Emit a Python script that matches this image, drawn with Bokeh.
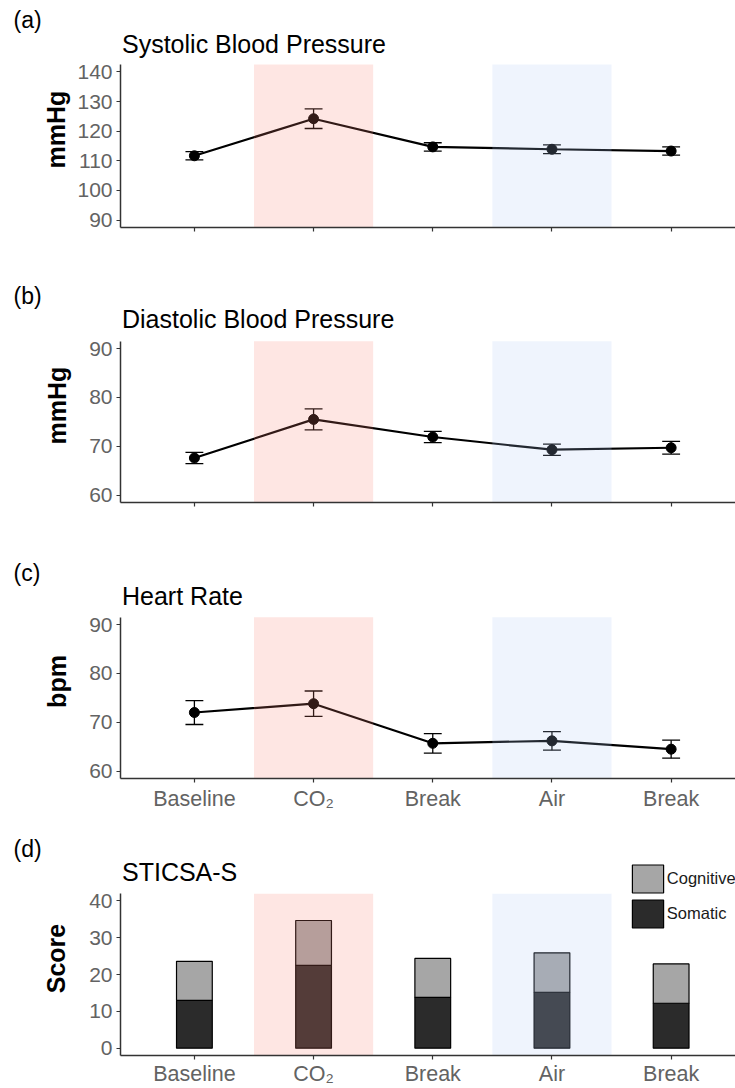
import math
from bokeh.plotting import figure
from bokeh.layouts import column
from bokeh.models import FixedTicker, Label, Legend, LegendItem, Range1d, ColumnDataSource, Title
from bokeh.embed import file_html
from bokeh.resources import INLINE

# ---------------- data ----------------
conditions = ["Baseline", "CO\u2082", "Break", "Air", "Break"]

sbp_mean = [111.7, 124.2, 114.7, 113.9, 113.3]
sbp_se = [1.4, 3.3, 1.4, 1.45, 1.4]
dbp_mean = [67.6, 75.5, 71.9, 69.3, 69.7]
dbp_se = [1.15, 2.15, 1.15, 1.15, 1.3]
hr_mean = [72.0, 73.8, 65.7, 66.2, 64.5]
hr_se = [2.45, 2.6, 2.0, 1.9, 1.85]

somatic = [13.0, 22.5, 13.8, 15.2, 12.2]
cognitive = [10.6, 12.2, 10.6, 10.7, 10.7]

sbp_ticks = [90, 100, 110, 120, 130, 140]
dbp_ticks = [60, 70, 80, 90]
hr_ticks = [60, 70, 80, 90]
score_ticks = [0, 10, 20, 30, 40]

shade_colors = {"CO\u2082": "#FA8072", "Air": "#B0C8F5"}

FONT = "Liberation Sans"
TICK_COLOR = "#636363"
AXIS_COLOR = "#333333"
xs = list(range(1, len(conditions) + 1))


def make_panel(fig_top, height, frame_top, data_top, frame_bottom, lims, ticks,
               show_x, xlab_standoff, ylabel, ylab_standoff, letter, letter_standoff,
               title, title_mid):
    top = frame_top - fig_top
    bottom = fig_top + height - frame_bottom
    ppu = (frame_bottom - data_top) / (lims[1] - lims[0])
    y_end = lims[1] + (data_top - frame_top) / ppu
    p = figure(width=735, height=height, output_backend="svg", toolbar_location=None,
               title=None, x_range=Range1d(0.38, 5.54), y_range=Range1d(lims[0], y_end),
               min_border_left=120, min_border_right=0,
               min_border_top=top, min_border_bottom=bottom)
    p.xgrid.visible = False
    p.ygrid.visible = False
    p.outline_line_color = None
    p.background_fill_color = "white"
    p.border_fill_color = "white"

    for ax in (p.xaxis[0], p.yaxis[0]):
        ax.axis_line_color = AXIS_COLOR
        ax.axis_line_width = 1.5
        ax.major_tick_line_color = AXIS_COLOR
        ax.major_tick_line_width = 1.2
        ax.major_tick_out = 4
        ax.major_tick_in = 0
        ax.minor_tick_out = 0
        ax.minor_tick_in = 0
        ax.major_label_text_font = FONT
        ax.major_label_text_color = TICK_COLOR

    ya = p.yaxis[0]
    ya.ticker = FixedTicker(ticks=ticks)
    ya.bounds = lims
    ya.major_label_text_font_size = "21px"
    ya.major_label_standoff = 4
    ya.axis_label = ylabel
    ya.axis_label_text_font = FONT
    ya.axis_label_text_font_size = "25px"
    ya.axis_label_text_font_style = "bold"
    ya.axis_label_text_color = "black"
    ya.axis_label_standoff = ylab_standoff

    xa = p.xaxis[0]
    xa.ticker = FixedTicker(ticks=xs)
    xa.major_label_text_font_size = "21.5px"
    xa.major_label_standoff = xlab_standoff
    if show_x:
        xa.major_label_overrides = {x: c for x, c in zip(xs, conditions)}
    else:
        xa.major_label_overrides = {x: "" for x in xs}

    # panel title inside the (extended) frame, panel letter in the area above it
    p.add_layout(Label(x=1.5, y=frame_bottom - title_mid, x_units="screen", y_units="screen",
                       text=title, text_font=FONT, text_font_size="25px",
                       text_color="black", text_baseline="middle", text_align="left"))
    p.add_layout(Title(text=letter, align="left", offset=-107, text_font=FONT,
                       text_font_size="23px", text_font_style="normal",
                       text_color="black", standoff=letter_standoff), "above")
    return p, lims


def add_shading(p, lo, hi):
    for cat, col in shade_colors.items():
        i = conditions.index(cat) + 1
        p.quad(left=[i - 0.5], right=[i + 0.5], bottom=[lo], top=[hi],
               fill_color=col, fill_alpha=0.2, line_color=None)


def add_series(p, mean, se, lims):
    lo = [m - s for m, s in zip(mean, se)]
    hi = [m + s for m, s in zip(mean, se)]
    cap = 0.075
    p.segment(x0=xs, y0=lo, x1=xs, y1=hi, line_color="black", line_width=1.3)
    p.segment(x0=[x - cap for x in xs], y0=hi, x1=[x + cap for x in xs], y1=hi,
              line_color="black", line_width=1.3)
    p.segment(x0=[x - cap for x in xs], y0=lo, x1=[x + cap for x in xs], y1=lo,
              line_color="black", line_width=1.3)
    p.line(xs, mean, line_color="black", line_width=2.2)
    p.scatter(xs, mean, size=10, fill_color="black", line_color="black")
    add_shading(p, lims[0], lims[1])


pa, la = make_panel(0, 280, 31, 64, 227, (87.5, 142.5), sbp_ticks, False, 4,
                    "mmHg", 4, "(a)", -3, "Systolic Blood Pressure", 43)
add_series(pa, sbp_mean, sbp_se, la)

pb, lb = make_panel(280, 276, 308, 340.7, 502, (58.5, 91.5), dbp_ticks, False, 4,
                    "mmHg", 15, "(b)", 0, "Diastolic Blood Pressure", 318.7)
add_series(pb, dbp_mean, dbp_se, lb)

pc, lc = make_panel(556, 274, 584, 616.7, 778, (58.5, 91.5), hr_ticks, True, 4,
                    "bpm", 15, "(c)", -3, "Heart Rate", 595.8)
add_series(pc, hr_mean, hr_se, lc)

pd_, ld = make_panel(830, 258, 861, 893.3, 1056, (-2, 42), score_ticks, True, 2,
                     "Score", 16, "(d)", 0, "STICSA-S", 872.9)
src = ColumnDataSource(dict(x=xs, somatic=somatic, cognitive=cognitive))
bars = pd_.vbar_stack(["somatic", "cognitive"], x="x", width=0.3, source=src,
                      fill_color=["#2B2B2B", "#A6A6A6"], line_color="black", line_width=1.2)
add_shading(pd_, ld[0], ld[1])
legend = Legend(items=[LegendItem(label="Cognitive", renderers=[bars[1]]),
                       LegendItem(label="Somatic", renderers=[bars[0]])],
                location=(507.8, 124), orientation="vertical",
                glyph_width=39, glyph_height=35, label_standoff=0, spacing=0,
                padding=0, margin=0, border_line_color=None, background_fill_alpha=0,
                label_text_font=FONT, label_text_font_size="16.5px",
                label_text_color="#1a1a1a")
pd_.add_layout(legend, "center")

layout = column(pa, pb, pc, pd_, spacing=0)
open("out.html", "w").write(file_html(layout, INLINE))
